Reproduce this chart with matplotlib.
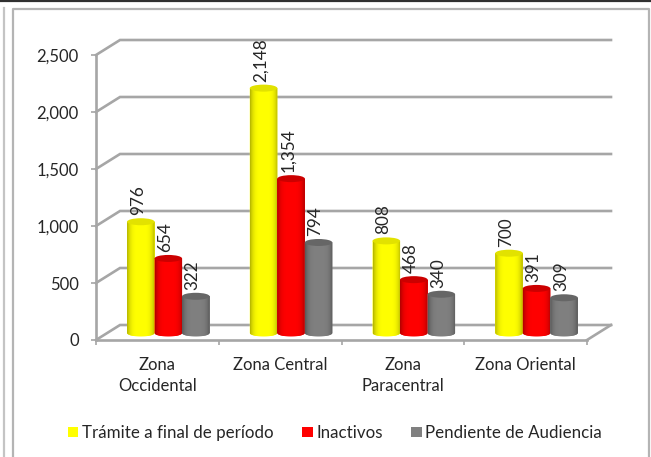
import numpy as np
import matplotlib
matplotlib.use("Agg")
import matplotlib.pyplot as plt
from matplotlib.patches import Ellipse, Patch, PathPatch
from matplotlib.path import Path
from matplotlib.lines import Line2D

categories = ["Zona\nOccidental", "Zona Central", "Zona\nParacentral", "Zona Oriental"]
series_names = ["Trámite a final de período", "Inactivos", "Pendiente de Audiencia"]
tramite = [976, 2148, 808, 700]
inactivos = [654, 1354, 468, 391]
pendiente = [322, 794, 340, 309]
y_ticks = [0, 500, 1000, 1500, 2000, 2500]
colors = ["#ffff00", "#ff0000", "#808080"]
edge_colors = ["#b4b400", "#b00000", "#585858"]
top_colors = ["#e2e200", "#cc0000", "#666666"]

W, H = 651, 457
plt.rcParams["font.family"] = ["Lato", "DejaVu Sans"]
TXT = "#262626"
GRID = "#a6a6a6"

fig = plt.figure(figsize=(W / 100, H / 100), dpi=100)
x0, x1, y0, y1 = 96, 587, 340, 55
ax = fig.add_axes([x0 / W, 1 - y0 / H, (x1 - x0) / W, (y0 - y1) / H])
ax.set_xlim(0, 4)
ax.set_ylim(0, 2500)
ax.patch.set_alpha(0)
for s in ax.spines.values():
    s.set_visible(False)

px_x = 4 / (x1 - x0)
px_y = 2500 / (y0 - y1)
dx, dy = 24 * px_x, 15 * px_y

for v in y_ticks:
    ax.plot([0, dx, 4 + dx], [v, v + dy, v + dy], color=GRID, lw=1.9, clip_on=False,
            solid_joinstyle="miter", zorder=1)
ax.plot([4, 4 + dx], [0, dy], color=GRID, lw=1.9, clip_on=False, zorder=1)
ax.plot([0, 0], [0, 2500], color=GRID, lw=1.9, clip_on=False, zorder=1.5)
ax.plot([0, 4], [0, 0], color=GRID, lw=1.9, clip_on=False, zorder=1.5)

ax.set_xticks(range(5))
ax.set_xticklabels([])
ax.set_yticks(y_ticks)
ax.set_yticklabels([f"{v:,}" for v in y_ticks], fontsize=12, color=TXT)
ax.tick_params(axis="y", color=GRID, width=1.2, length=3.5, pad=9)
ax.tick_params(axis="x", color=GRID, width=1.2, length=3.5)

for i, c in enumerate(categories):
    ax.text(i + 0.5, -17 * px_y, c, ha="center", va="top",
            fontsize=12, color=TXT, linespacing=1.42, clip_on=False)

bar_w = 27.5 * px_x
step = 27.5 * px_x
start = 0.365
base = 7 * px_y
ell_h = 7 * px_y
grad = np.abs(np.linspace(-1, 1, 64)) ** 4

def body_path(xc, bottom, top):
    t = np.linspace(np.pi, 2 * np.pi, 24)
    xs = xc + bar_w / 2 * np.cos(t)
    ys = bottom + ell_h / 2 * np.sin(t)
    verts = list(zip(xs, ys)) + [(xc + bar_w / 2, top), (xc - bar_w / 2, top), (xs[0], ys[0])]
    return Path(verts)

for k, vals in enumerate([tramite, inactivos, pendiente]):
    rgb = np.array(matplotlib.colors.to_rgb(colors[k]))
    edge = np.array(matplotlib.colors.to_rgb(edge_colors[k]))
    img = (rgb[None, :] * (1 - grad[:, None]) + edge[None, :] * grad[:, None])[None, :, :]
    for i, v in enumerate(vals):
        xc = start + i + k * step
        z = 3 + k * 0.1
        b = ax.bar(xc, v, width=bar_w, bottom=base, color=colors[k], zorder=z, clip_on=False)[0]
        patch = PathPatch(body_path(xc, base, base + v), facecolor=colors[k], edgecolor="none",
                          transform=ax.transData, zorder=z + 0.001)
        ax.add_patch(patch)
        im = ax.imshow(img, extent=[xc - bar_w / 2, xc + bar_w / 2, base - ell_h / 2, base + v],
                       aspect="auto", zorder=z + 0.01)
        im.set_clip_path(patch)
        ax.add_patch(Ellipse((xc, base + v), bar_w, ell_h, facecolor=top_colors[k],
                             edgecolor="none", zorder=z + 0.02, clip_on=False))
        ax.text(xc - 3 * px_x, base + v + 6.5 * px_y, f"{v:,}", rotation=90, ha="center", va="bottom",
                fontsize=12.3, color=TXT, zorder=6, clip_on=False)
ax.set_xlim(0, 4)
ax.set_ylim(0, 2500)

handles = [Patch(facecolor=c, edgecolor="none") for c in colors]
fig.legend(handles, series_names, loc="center", bbox_to_anchor=(335 / W, 1 - 433 / H), ncol=3,
           frameon=False, fontsize=12.2, handlelength=0.62, handleheight=0.55, handletextpad=0.2,
           columnspacing=1.7, labelcolor=TXT)

def fline(xs, ys, color, lw):
    fig.add_artist(Line2D([x / W for x in xs], [1 - y / H for y in ys], color=color, lw=lw))

fline([0, W], [0.5, 0.5], "#303030", 1.6)
fline([3.5, 3.5], [8, H], "#c4c4c4", 1.6)
fline([12.5, 12.5, 648.5, 648.5], [H, 8.5, 8.5, H], "#b4b4b4", 1.6)

fig.savefig("out.png", dpi=100)
